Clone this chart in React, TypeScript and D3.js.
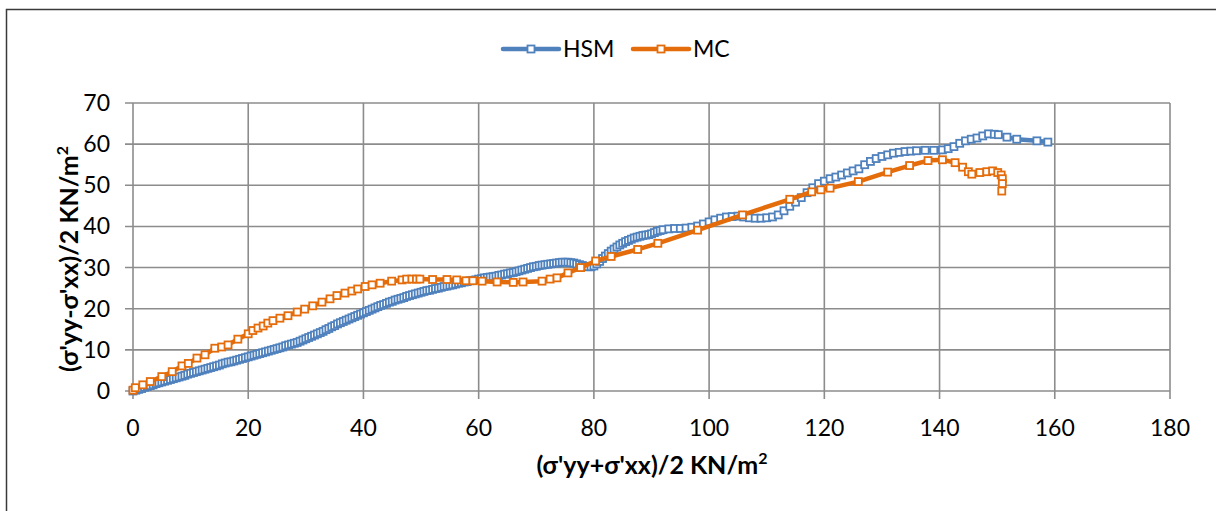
import React from "react";
import * as d3 from "d3";

const xTicks = [0, 20, 40, 60, 80, 100, 120, 140, 160, 180];
const yTicks = [0, 10, 20, 30, 40, 50, 60, 70];
const seriesNames = ["HSM", "MC"];
const xTitle = "(σ'yy+σ'xx)/2 KN/m";
const yTitle = "(σ'yy-σ'xx)/2 KN/m";

const hsm: [number, number][] = [
  [0, 0], [0.5, 0.2], [1, 0.4], [1.5, 0.6], [2, 0.9], [2.5, 1.1], [3, 1.3], [3.5, 1.5], [4, 1.8], [4.5, 2.0],
  [5, 2.2], [5.5, 2.4], [6, 2.6], [6.5, 2.8], [7, 3.0], [7.5, 3.2], [8, 3.4], [8.5, 3.6], [9, 3.8], [9.5, 4.1],
  [10, 4.3], [10.5, 4.5], [11, 4.7], [11.5, 4.9], [12, 5.1], [12.5, 5.3], [13, 5.5], [13.5, 5.7], [14, 5.9], [14.5, 6.1],
  [15, 6.3], [15.5, 6.6], [16, 6.8], [16.5, 7.0], [17, 7.1], [17.5, 7.3], [18, 7.5], [18.5, 7.7], [19, 7.9], [19.5, 8.1],
  [20, 8.3], [20.5, 8.5], [21, 8.7], [21.5, 8.9], [22, 9.1], [22.5, 9.3], [23, 9.5], [23.5, 9.7], [24, 9.9], [24.5, 10.1],
  [25, 10.3], [25.5, 10.5], [26, 10.7], [26.5, 11.0], [27, 11.2], [27.5, 11.4], [28, 11.6], [28.5, 11.8], [29, 12.1], [29.5, 12.4],
  [30, 12.7], [30.5, 13.0], [31, 13.3], [31.5, 13.6], [32, 13.9], [32.5, 14.2], [33, 14.5], [33.5, 14.9], [34, 15.2], [34.5, 15.6],
  [35, 15.9], [35.5, 16.3], [36, 16.6], [36.5, 16.9], [37, 17.2], [37.5, 17.5], [38, 17.8], [38.5, 18.1], [39, 18.4], [39.5, 18.7],
  [40, 19.0], [40.5, 19.3], [41, 19.6], [41.5, 19.9], [42, 20.2], [42.5, 20.5], [43, 20.8], [43.5, 21.0], [44, 21.3], [44.5, 21.6],
  [45, 21.8], [45.5, 22.1], [46, 22.3], [46.5, 22.5], [47, 22.7], [47.5, 23.0], [48, 23.2], [48.5, 23.4], [49, 23.6], [49.5, 23.8],
  [50, 24.0], [50.5, 24.2], [51, 24.4], [51.5, 24.5], [52, 24.7], [52.5, 24.9], [53, 25.0], [53.5, 25.2], [54, 25.4], [54.5, 25.5],
  [55, 25.7], [55.5, 25.8], [56, 26.0], [56.5, 26.2], [57, 26.3], [57.5, 26.5], [58, 26.6], [58.5, 26.8], [59, 26.9], [59.5, 27.0],
  [60, 27.2], [60.5, 27.3], [61, 27.5], [61.5, 27.6], [62, 27.7], [62.5, 27.8], [63, 27.9], [63.5, 28.1], [64, 28.2], [64.5, 28.4],
  [65, 28.5], [65.5, 28.7], [66, 28.8], [66.5, 29.0], [67, 29.2], [67.5, 29.4], [68, 29.6], [68.5, 29.8], [69, 30.0], [69.5, 30.2],
  [70, 30.3], [70.5, 30.5], [71, 30.6], [71.5, 30.7], [72, 30.8], [72.5, 30.9], [73, 31.0], [73.5, 31.1], [74, 31.2], [74.5, 31.3],
  [75, 31.3], [75.5, 31.3], [76, 31.2], [76.5, 31.1], [77, 30.9], [77.5, 30.7], [78, 30.5], [78.5, 30.3], [79, 30.2], [79.5, 30.2],
  [80, 30.4], [80.5, 30.9], [81, 31.5], [81.5, 32.2], [82, 32.8], [82.5, 33.4], [83, 34.0], [83.5, 34.5], [84, 35.0], [84.5, 35.5],
  [85, 35.9], [85.5, 36.3], [86, 36.6], [86.5, 36.9], [87, 37.2], [87.5, 37.4], [88, 37.6], [88.5, 37.8], [89, 37.9], [89.5, 38.0],
  [90, 38.2], [90.5, 38.5], [91, 38.8], [91.5, 39.0], [92, 39.2], [93, 39.4], [94, 39.5], [95, 39.5], [96, 39.6], [97, 39.8],
  [98, 40.1], [99, 40.6], [100, 41.1], [101, 41.6], [102, 42.0], [103, 42.3], [104, 42.4], [105, 42.5], [106, 42.3], [107, 42.1],
  [108, 42.0], [109, 42.0], [110, 42.1], [111, 42.3], [112, 42.8], [113, 43.8], [114, 44.9], [115, 45.9], [116, 47.0], [117, 48.2],
  [118, 49.4], [119, 50.4], [120, 51.0], [121, 51.6], [122, 52.0], [123, 52.5], [124, 53.0], [125, 53.5], [126, 54.0], [127, 55.0],
  [128, 55.8], [129, 56.5], [130, 57.0], [131, 57.4], [132, 57.8], [133, 58.0], [134, 58.2], [135, 58.3], [136, 58.4], [137.5, 58.5],
  [139, 58.5], [140.5, 58.6], [141.5, 58.9], [142.5, 59.4], [143.5, 60.2], [144.5, 60.8], [145.5, 61.2], [146.5, 61.5], [147.5, 62.0], [148.5, 62.5],
  [149.5, 62.4], [150.2, 62.3], [151.7, 61.7], [153.4, 61.2], [156.9, 60.8], [158.8, 60.5],
];

const mc: [number, number][] = [
  [0, 0.2], [0.4, 0.8], [1.7, 1.5], [3, 2.3], [5, 3.5], [6.8, 4.7], [8.5, 6.1], [9.6, 6.7], [11.1, 8.0], [12.5, 8.8],
  [14.2, 10.4], [15.4, 10.7], [16.5, 11.2], [18.2, 12.6], [20, 13.9], [20.8, 14.7], [21.7, 15.3], [22.6, 15.8], [23.4, 16.5], [24.3, 17.1],
  [25.5, 17.7], [26.9, 18.3], [28.5, 19.2], [29.8, 19.9], [31.2, 20.7], [32.8, 21.6], [34.2, 22.4], [35.4, 23.2], [36.8, 23.8], [38, 24.3],
  [39, 24.8], [40.3, 25.4], [41.5, 25.8], [42.9, 26.2], [44.9, 26.7], [46.7, 27.0], [47.5, 27.2], [48.4, 27.2], [49.2, 27.2], [49.8, 27.2],
  [52, 27.1], [54.5, 27.1], [56.2, 27.0], [57.8, 26.8], [59, 26.8], [60.6, 26.7], [63.2, 26.5], [66, 26.4], [67.7, 26.5], [71, 26.7],
  [72.4, 27.2], [73.6, 27.5], [75.5, 28.7], [77.7, 30.0], [80.3, 31.6], [83, 32.7], [87.6, 34.4], [91.1, 35.9], [98, 39.1], [105.8, 42.8],
  [114, 46.6], [117.8, 48.4], [119.4, 48.9], [121, 49.3], [125.9, 50.9], [131, 53.2], [134.8, 54.8], [138, 56.0], [140.5, 56.2], [142.7, 55.5],
  [144, 54.4], [145, 53.3], [145.6, 52.7], [147, 53.1], [148.2, 53.3], [149.2, 53.5], [150.1, 53.1], [150.7, 52.5], [150.9, 51.6], [150.9, 50.4],
  [150.8, 48.6],
];

const colors = ["#4F81BD", "#E46C0A"];
const FONT = "Lato, 'Open Sans', sans-serif";

export default function App() {
  const W = 1216, H = 511;
  const x = d3.scaleLinear().domain([0, 180]).range([133, 1170]);
  const y = d3.scaleLinear().domain([0, 70]).range([391, 103]);
  const line = d3.line<[number, number]>().x((d) => x(d[0])).y((d) => y(d[1]));
  const data = [hsm, mc];
  const grid = "#8c8c8c";
  const ms = 7;

  return (
    <svg width={W} height={H} style={{ position: "absolute", left: 0, top: 0 }} fontFamily={FONT}>
      <rect x={0} y={0} width={W} height={H} fill="#fff" />
      <rect x={6.5} y={9.5} width={W + 10} height={H + 10} fill="none" stroke="#3a3a3a" strokeWidth={1.5} />
      {yTicks.map((t) => (
        <line key={"gy" + t} x1={125} x2={x(180)} y1={y(t)} y2={y(t)} stroke={grid} strokeWidth={1.6} />
      ))}
      {xTicks.map((t) => (
        <line key={"gx" + t} x1={x(t)} x2={x(t)} y1={y(70)} y2={399} stroke={grid} strokeWidth={1.6} />
      ))}
      {yTicks.map((t) => (
        <text key={"ty" + t} x={110} y={y(t)} dy="0.35em" textAnchor="end" fontSize={23} fill="#000">{t}</text>
      ))}
      {xTicks.map((t) => (
        <text key={"tx" + t} x={x(t)} y={436} textAnchor="middle" fontSize={23} fill="#000">{t}</text>
      ))}
      {data.map((s, i) => (
        <g key={"s" + i}>
          <path d={line(s) || ""} fill="none" stroke={colors[i]} strokeWidth={4.5} strokeLinejoin="round" strokeLinecap="round" />
          {s.map((d, j) => (
            <rect key={j} x={x(d[0]) - ms / 2} y={y(d[1]) - ms / 2} width={ms} height={ms} fill="#fff" stroke={colors[i]} strokeWidth={1.8} />
          ))}
        </g>
      ))}
      {seriesNames.map((n, i) => {
        const lx = 503 + i * 130;
        return (
          <g key={"l" + i}>
            <line x1={lx} x2={lx + 56} y1={49} y2={49} stroke={colors[i]} strokeWidth={4.5} strokeLinecap="round" />
            <rect x={lx + 28 - ms / 2} y={49 - ms / 2} width={ms} height={ms} fill="#fff" stroke={colors[i]} strokeWidth={1.8} />
            <text x={lx + 60} y={57} fontSize={23} fill="#000">{n}</text>
          </g>
        );
      })}
      <text x={652} y={474} textAnchor="middle" fontSize={25} fontWeight="bold" fill="#000">
        {xTitle}<tspan dy={-10} fontSize={16}>2</tspan>
      </text>
      <text transform="translate(78,259) rotate(-90)" textAnchor="middle" fontSize={25} fontWeight="bold" fill="#000">
        {yTitle}<tspan dy={-10} fontSize={16}>2</tspan>
      </text>
    </svg>
  );
}
